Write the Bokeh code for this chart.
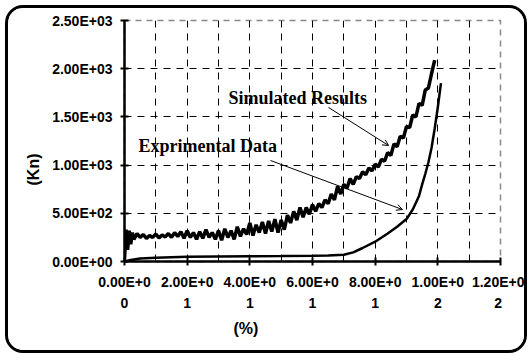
from bokeh.plotting import figure
from bokeh.models import (FixedTicker, Range1d, Label, Arrow, OpenHead, Title)
from bokeh.embed import file_html
from bokeh.resources import INLINE

# ---- data ----
x_ticks = [0.0, 0.2, 0.4, 0.6, 0.8, 1.0, 1.2]
x_tick_labels = ["0.00E+0\n0", "2.00E+0\n1", "4.00E+0\n1", "6.00E+0\n1",
                 "8.00E+0\n1", "1.00E+0\n2", "1.20E+0\n2"]
y_ticks = [0, 500, 1000, 1500, 2000, 2500]
y_tick_labels = ["0.00E+00", "5.00E+02", "1.00E+03", "1.50E+03", "2.00E+03", "2.50E+03"]
x_grid = [0.1, 0.2, 0.3, 0.4, 0.5, 0.6, 0.7, 0.8, 0.9, 1.0, 1.1, 1.2]
x_title = "(%)"
y_title = "(Kn)"

sim_x = [0.00, 0.005, 0.01, 0.015, 0.02, 0.025, 0.03, 0.04, 0.05, 0.06, 0.07, 0.08, 0.09,
         0.10, 0.11, 0.12, 0.13, 0.14, 0.15, 0.16, 0.17, 0.18, 0.19,
         0.20, 0.21, 0.22, 0.23, 0.24, 0.25, 0.26, 0.27, 0.28, 0.29,
         0.30, 0.31, 0.32, 0.33, 0.34, 0.35, 0.36, 0.37, 0.38, 0.39,
         0.40, 0.41, 0.42, 0.43, 0.44, 0.45, 0.46, 0.47, 0.48, 0.49,
         0.50, 0.51, 0.52, 0.53, 0.54, 0.55, 0.56, 0.57, 0.58, 0.59,
         0.60, 0.61, 0.62, 0.63, 0.64, 0.65, 0.66, 0.67, 0.68, 0.69,
         0.70, 0.71, 0.72, 0.73, 0.74, 0.75, 0.76, 0.77, 0.78, 0.79,
         0.80, 0.81, 0.82, 0.83, 0.84, 0.85, 0.86, 0.87, 0.88, 0.89,
         0.90, 0.91, 0.92, 0.93, 0.94, 0.95, 0.96, 0.97, 0.98, 0.99, 1.00]
sim_y = [20, 330, 120, 320, 180, 300, 230, 290, 250, 280, 240, 270,
         250, 285, 245, 275, 255, 290, 250, 300, 260, 310,
         240, 320, 250, 300, 230, 310, 240, 330, 250, 300,
         230, 320, 220, 340, 250, 320, 230, 360, 260, 340,
         280, 400, 270, 380, 300, 410, 290, 420, 310, 440,
         300, 430, 330, 480, 400, 520, 430, 560, 460, 560,
         490, 590, 520, 600, 560, 640, 600, 700, 640, 780,
         700, 800, 760, 860, 800, 880, 860, 930, 900, 970,
         940, 1010, 980, 1060, 1040, 1130, 1100, 1220, 1190, 1300,
         1280, 1400, 1390, 1520, 1500, 1640, 1620, 1780, 1800, 1950, 2090]

exp_x = [0.0, 0.02, 0.05, 0.10, 0.20, 0.30, 0.40, 0.50, 0.60, 0.65, 0.70, 0.73,
         0.76, 0.80, 0.84, 0.87, 0.90, 0.92, 0.94, 0.95, 0.96, 0.97, 0.98, 0.99, 1.00, 1.01]
exp_y = [0, 15, 30, 40, 48, 52, 55, 57, 60, 62, 70, 95,
         140, 205, 290, 360, 440, 540, 680, 800, 910, 1030, 1180, 1380, 1600, 1850]

FONT = "Liberation Sans"
SERIF = "Liberation Serif"

# canvas starts at (8, 8) inside a 3px rounded border
p = figure(frame_width=376, frame_height=241, output_backend="svg", toolbar_location=None,
           x_range=Range1d(0, 1.2), y_range=Range1d(0, 2500),
           min_border_left=116, min_border_right=24, min_border_top=12, min_border_bottom=89)
p.styles = {"border": "3px solid black", "border-radius": "18px", "margin-left": "5px",
            "margin-top": "5px", "overflow": "hidden", "box-sizing": "content-box"}
p.background_fill_color = "white"
p.border_fill_color = "white"
p.outline_line_color = "#888888"
p.outline_line_dash = "6 5"
p.outline_line_width = 1.5

# axes
p.xaxis.ticker = FixedTicker(ticks=x_ticks)
p.yaxis.ticker = FixedTicker(ticks=y_ticks)
p.xaxis.major_label_overrides = {t: l for t, l in zip(x_ticks, x_tick_labels)}
p.yaxis.major_label_overrides = {t: l for t, l in zip(y_ticks, y_tick_labels)}
for ax in (p.xaxis, p.yaxis):
    ax.axis_line_width = 2.5
    ax.axis_line_color = "black"
    ax.major_tick_line_width = 2
    ax.major_tick_in = 4
    ax.major_tick_out = 4
    ax.minor_tick_line_color = None
    ax.major_label_text_font = FONT
    ax.major_label_text_font_style = "bold"
    ax.major_label_text_font_size = "14px"
    ax.major_label_text_color = "black"
p.xaxis.major_label_standoff = 8
p.xaxis.major_label_text_line_height = 1.36
p.yaxis.major_label_standoff = 8

# axis titles as side titles
p.add_layout(Title(text=x_title, align="left", offset=109, standoff=6, text_font=FONT,
                   text_font_style="bold", text_font_size="16px", text_color="black"), "below")
p.add_layout(Title(text=y_title, align="left", offset=76, standoff=15, text_font=FONT,
                   text_font_style="bold", text_font_size="16px", text_color="black"), "left")

# grid
p.xgrid.ticker = FixedTicker(ticks=x_grid)
p.ygrid.ticker = FixedTicker(ticks=y_ticks)
for g in (p.xgrid, p.ygrid):
    g.grid_line_color = "black"
    g.grid_line_dash = "7 6"
    g.grid_line_width = 1

# series
p.line(exp_x, exp_y, line_color="black", line_width=2.5)
p.line(sim_x, sim_y, line_color="black", line_width=3.5)

# annotations
p.add_layout(Label(x=0.332, y=1701, text="Simulated Results", text_font=SERIF,
                   text_font_style="bold", text_font_size="18px", text_baseline="middle",
                   text_color="black"))
p.add_layout(Label(x=0.045, y=1193, text="Exprimental Data", text_font=SERIF,
                   text_font_style="bold", text_font_size="18px", text_baseline="middle",
                   text_color="black"))
p.add_layout(Arrow(x_start=0.651, y_start=1598, x_end=0.843, y_end=1203, line_width=1,
                   line_color="black", end=OpenHead(size=6, line_width=1, line_color="black")))
p.add_layout(Arrow(x_start=0.466, y_start=1048, x_end=0.887, y_end=539, line_width=1,
                   line_color="black", end=OpenHead(size=6, line_width=1, line_color="black")))

open("out.html", "w").write(file_html(p, INLINE))
